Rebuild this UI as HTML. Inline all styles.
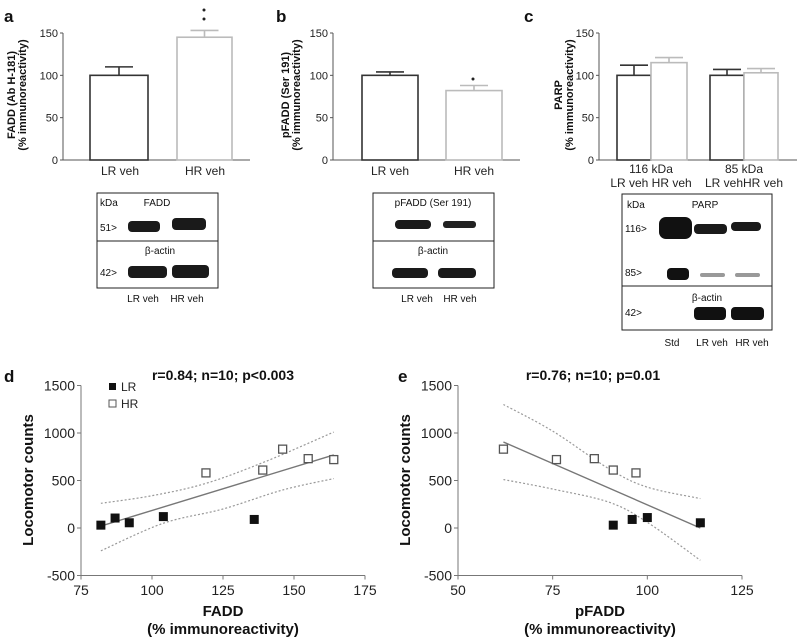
<!DOCTYPE html>
<html><head><meta charset="utf-8"><style>
html,body{margin:0;padding:0;background:#fff;}
svg{display:block;font-family:"Liberation Sans",Arial,sans-serif;}
</style></head><body>
<svg id="fig" width="800" height="640" viewBox="0 0 800 640" xmlns="http://www.w3.org/2000/svg">
<g id="static" font-weight="bold" font-size="17" fill="#111">
<text x="4" y="22">a</text>
<text x="276" y="22">b</text>
<text x="524" y="22">c</text>
<text x="4" y="382">d</text>
<text x="398" y="382">e</text>
</g>
<!-- blots -->
<g font-size="10" fill="#111">
<rect x="97" y="193" width="121" height="95" fill="none" stroke="#222"/>
<line x1="97" y1="241" x2="218" y2="241" stroke="#222"/>
<text x="100" y="206">kDa</text><text x="157" y="206" text-anchor="middle">FADD</text>
<text x="100" y="231">51&gt;</text>
<rect x="128" y="221" width="32" height="11" rx="4" fill="#1a1a1a"/>
<rect x="172" y="218" width="34" height="12" rx="4" fill="#1a1a1a"/>
<text x="160" y="254" text-anchor="middle">β-actin</text>
<text x="100" y="276">42&gt;</text>
<rect x="128" y="266" width="39" height="12" rx="4" fill="#1a1a1a"/>
<rect x="172" y="265" width="37" height="13" rx="4" fill="#1a1a1a"/>
<text x="143" y="302" text-anchor="middle">LR veh</text><text x="187" y="302" text-anchor="middle">HR veh</text>
</g>
<g font-size="10" fill="#111">
<rect x="373" y="193" width="121" height="95" fill="none" stroke="#222"/>
<line x1="373" y1="241" x2="494" y2="241" stroke="#222"/>
<text x="433" y="206" text-anchor="middle">pFADD (Ser 191)</text>
<rect x="395" y="220" width="36" height="9" rx="4" fill="#1a1a1a"/>
<rect x="443" y="221" width="33" height="7" rx="3" fill="#222"/>
<text x="433" y="254" text-anchor="middle">β-actin</text>
<rect x="392" y="268" width="36" height="10" rx="4" fill="#1a1a1a"/>
<rect x="438" y="268" width="38" height="10" rx="4" fill="#1a1a1a"/>
<text x="417" y="302" text-anchor="middle">LR veh</text><text x="460" y="302" text-anchor="middle">HR veh</text>
</g>
<g font-size="10" fill="#111">
<rect x="622" y="194" width="150" height="136" fill="none" stroke="#222"/>
<line x1="622" y1="286" x2="772" y2="286" stroke="#222"/>
<text x="627" y="208">kDa</text><text x="705" y="208" text-anchor="middle">PARP</text>
<text x="625" y="232">116&gt;</text><text x="625" y="276">85&gt;</text>
<rect x="659" y="217" width="33" height="22" rx="7" fill="#111"/>
<rect x="694" y="224" width="33" height="10" rx="4" fill="#1a1a1a"/>
<rect x="731" y="222" width="30" height="9" rx="4" fill="#1a1a1a"/>
<rect x="667" y="268" width="22" height="12" rx="4" fill="#111"/>
<rect x="700" y="273" width="25" height="4" rx="2" fill="#999"/>
<rect x="735" y="273" width="25" height="4" rx="2" fill="#999"/>
<text x="707" y="301" text-anchor="middle">β-actin</text>
<text x="625" y="316">42&gt;</text>
<rect x="694" y="307" width="32" height="13" rx="4" fill="#111"/>
<rect x="731" y="307" width="33" height="13" rx="4" fill="#111"/>
<text x="672" y="346" text-anchor="middle">Std</text><text x="712" y="346" text-anchor="middle">LR veh</text><text x="752" y="346" text-anchor="middle">HR veh</text>
</g>
<g id="charts"></g>
</svg>
<script>
// ---- Bar chart data ----
const barA_values=[100,145];
const barA_errors=[10,8];
const barB_values=[100,82];
const barB_errors=[4,6];
const barC_values=[100,115,100,103];
const barC_errors=[12,6,7,5];
const barTicks=[0,50,100,150];
// ---- Scatter data ----
const dLR_x=[82,87,92,104,136];
const dLR_y=[30,105,55,120,90];
const dHR_x=[119,139,146,155,164];
const dHR_y=[580,610,830,730,720];
const dFit_x=[82,164];
const dFit_y=[20,770];
const dUpper_x=[82,100,119,140,164];
const dUpper_y=[260,340,470,700,1010];
const dLower_x=[82,104,125,146,164];
const dLower_y=[-240,50,200,400,520];
const dTicksX=[75,100,125,150,175];
const eHR_x=[62,76,86,91,97];
const eHR_y=[830,720,730,610,580];
const eLR_x=[91,96,100,114];
const eLR_y=[30,90,110,55];
const eFit_x=[62,114];
const eFit_y=[905,0];
const eUpper_x=[62,75,90,100,114];
const eUpper_y=[1300,1020,620,430,310];
const eLower_x=[62,75,90,100,114];
const eLower_y=[510,410,270,60,-340];
const eTicksX=[50,75,100,125];
const scatTicksY=[-500,0,500,1000,1500];

const NS='http://www.w3.org/2000/svg';
const root=document.getElementById('charts');
function mk(tag,attrs,parent,text){const e=document.createElementNS(NS,tag);for(const k in attrs)e.setAttribute(k,attrs[k]);if(text!==undefined)e.textContent=text;(parent||root).appendChild(e);return e;}

function barPanel(name,axX,axEnd,bars,vals,errs,labels,ylab,colors,stars){
  const g=mk('g',{});
  
  
  const y=v=>160-v*127/150;
  mk('line',{x1:axX,y1:y(150),x2:axX,y2:160,stroke:'#555'},g);
  mk('line',{x1:axX,y1:160,x2:axEnd,y2:160,stroke:'#555'},g);
  barTicks.forEach(t=>{mk('line',{x1:axX-3,y1:y(t),x2:axX,y2:y(t),stroke:'#555'},g);
    const tl=mk('text',{x:axX-5,y:y(t)+4,'text-anchor':'end','font-size':11,fill:'#222'},g,t);
    
    });
  vals.forEach((v,i)=>{const [x0,x1]=bars[i];const c=colors[i];
    const r=mk('rect',{x:x0,y:y(v),width:x1-x0,height:160-y(v),fill:'#fff',stroke:c,'stroke-width':1.6},g);
    
    
    const xm=(x0+x1)/2,yt=y(v+errs[i]);
    mk('line',{x1:xm,y1:y(v),x2:xm,y2:yt,stroke:c,'stroke-width':1.6},g);
    mk('line',{x1:xm-14,y1:yt,x2:xm+14,y2:yt,stroke:c,'stroke-width':1.6},g);});
  labels.forEach(l=>{mk('text',{x:l[0],y:l[1],'text-anchor':'middle','font-size':12,fill:'#222'},g,l[2]);});
  const yl=mk('text',{transform:`translate(${ylab[0]},95) rotate(-90)`,'text-anchor':'middle','font-size':11,'font-weight':'bold',fill:'#111'},g);
  
  
  mk('tspan',{x:0,dy:0},yl,ylab[1]);mk('tspan',{x:0,dy:11},yl,'(% immunoreactivity)');
  (stars||[]).forEach(s=>mk('circle',{cx:s[0],cy:s[1],r:1.5,fill:'#222'},g));
}
barPanel('bar-chart-a',63,250,[[90,148],[177,232]],barA_values,barA_errors,
  [[120,175,'LR veh'],[205,175,'HR veh']],[15,'FADD (Ab H-181)'],['#333','#bbb'],[[204,10],[204,19]]);
barPanel('bar-chart-b',333,520,[[362,418],[446,502]],barB_values,barB_errors,
  [[390,175,'LR veh'],[474,175,'HR veh']],[289,'pFADD (Ser 191)'],['#333','#bbb'],[[473,79]]);
barPanel('bar-chart-c',599,797,[[617,651],[651,687],[710,744],[744,778]],barC_values,barC_errors,
  [[651,173,'116 kDa'],[651,187,'LR veh HR veh'],[744,173,'85 kDa'],[744,187,'LR vehHR veh']],[562,'PARP'],['#333','#bbb','#333','#bbb']);

function scatter(name,axX,axEnd,xmin,xmax,ticksX,data,title,titleX,xlab){
  const g=mk('g',{});
  
  
  const sx=v=>axX+(v-xmin)/(xmax-xmin)*(axEnd-axX);
  const sy=v=>528-v*0.095;
  mk('line',{x1:axX,y1:sy(1500),x2:axX,y2:sy(-500),stroke:'#777'},g);
  mk('line',{x1:axX,y1:sy(-500),x2:axEnd,y2:sy(-500),stroke:'#777'},g);
  scatTicksY.forEach(t=>{mk('line',{x1:axX-4,y1:sy(t),x2:axX,y2:sy(t),stroke:'#777'},g);
    const tl=mk('text',{x:axX-6,y:sy(t)+5,'text-anchor':'end','font-size':14,fill:'#222'},g,t);
    
    });
  ticksX.forEach(t=>{mk('line',{x1:sx(t),y1:sy(-500),x2:sx(t),y2:sy(-500)+4,stroke:'#777'},g);
    const tl=mk('text',{x:sx(t),y:595,'text-anchor':'middle','font-size':14,fill:'#222'},g,t);
    
    });
  const path=(xs,ys)=>{let d='';xs.forEach((x,i)=>{d+=(i?'L':'M')+sx(x).toFixed(1)+','+sy(ys[i]).toFixed(1);});return d;};
  const smooth=(xs,ys)=>{const p=xs.map((x,i)=>[sx(x),sy(ys[i])]);let d='M'+p[0];for(let i=0;i<p.length-1;i++){const a=p[i-1]||p[i],b=p[i],c=p[i+1],e=p[i+2]||c;
    d+=` C${b[0]+(c[0]-a[0])/6},${b[1]+(c[1]-a[1])/6} ${c[0]-(e[0]-b[0])/6},${c[1]-(e[1]-b[1])/6} ${c[0]},${c[1]}`;}return d;};
  const up=mk('path',{d:smooth(data.ux,data.uy),fill:'none',stroke:'#999','stroke-dasharray':'2,2','stroke-width':1.2},g);
  
  
  const lo=mk('path',{d:smooth(data.lx,data.ly),fill:'none',stroke:'#999','stroke-dasharray':'2,2','stroke-width':1.2},g);
  
  
  const fl=mk('path',{d:path(data.fx,data.fy),fill:'none',stroke:'#777','stroke-width':1.4},g);
  
  
  data.hx.forEach((x,i)=>{const r=mk('rect',{x:sx(x)-4,y:sy(data.hy[i])-4,width:8,height:8,fill:'#fff',stroke:'#555','stroke-width':1.3},g);
    
    });
  data.lxp.forEach((x,i)=>{const r=mk('rect',{x:sx(x)-4.5,y:sy(data.lyp[i])-4.5,width:9,height:9,fill:'#111'},g);
    
    });
  const t=mk('text',{x:titleX,y:380,'text-anchor':'middle','font-size':14,'font-weight':'bold',fill:'#111'},g,title);
  
  
  const xl=mk('text',{'text-anchor':'middle','font-size':15,'font-weight':'bold',fill:'#111'},g);
  
  
  mk('tspan',{x:(axX+axEnd)/2,y:616},xl,xlab);mk('tspan',{x:(axX+axEnd)/2,y:634},xl,'(% immunoreactivity)');
  const yl=mk('text',{transform:`translate(${axX-48},480) rotate(-90)`,'text-anchor':'middle','font-size':15,'font-weight':'bold',fill:'#111'},g,'Locomotor counts');
  
  
}
scatter('scatter-d',81,365,75,175,dTicksX,{ux:dUpper_x,uy:dUpper_y,lx:dLower_x,ly:dLower_y,fx:dFit_x,fy:dFit_y,hx:dHR_x,hy:dHR_y,lxp:dLR_x,lyp:dLR_y},'r=0.84; n=10; p<0.003',223,'FADD');
scatter('scatter-e',458,742,50,125,eTicksX,{ux:eUpper_x,uy:eUpper_y,lx:eLower_x,ly:eLower_y,fx:eFit_x,fy:eFit_y,hx:eHR_x,hy:eHR_y,lxp:eLR_x,lyp:eLR_y},'r=0.76; n=10; p=0.01',593,'pFADD');
// legend
const lg=mk('g',{});


mk('rect',{x:109,y:383,width:7,height:7,fill:'#111'},lg);
mk('text',{x:121,y:391,'font-size':12,fill:'#222'},lg,'LR');
mk('rect',{x:109,y:400,width:7,height:7,fill:'#fff',stroke:'#555'},lg);
mk('text',{x:121,y:408,'font-size':12,fill:'#222'},lg,'HR');
</script>
</body></html>
